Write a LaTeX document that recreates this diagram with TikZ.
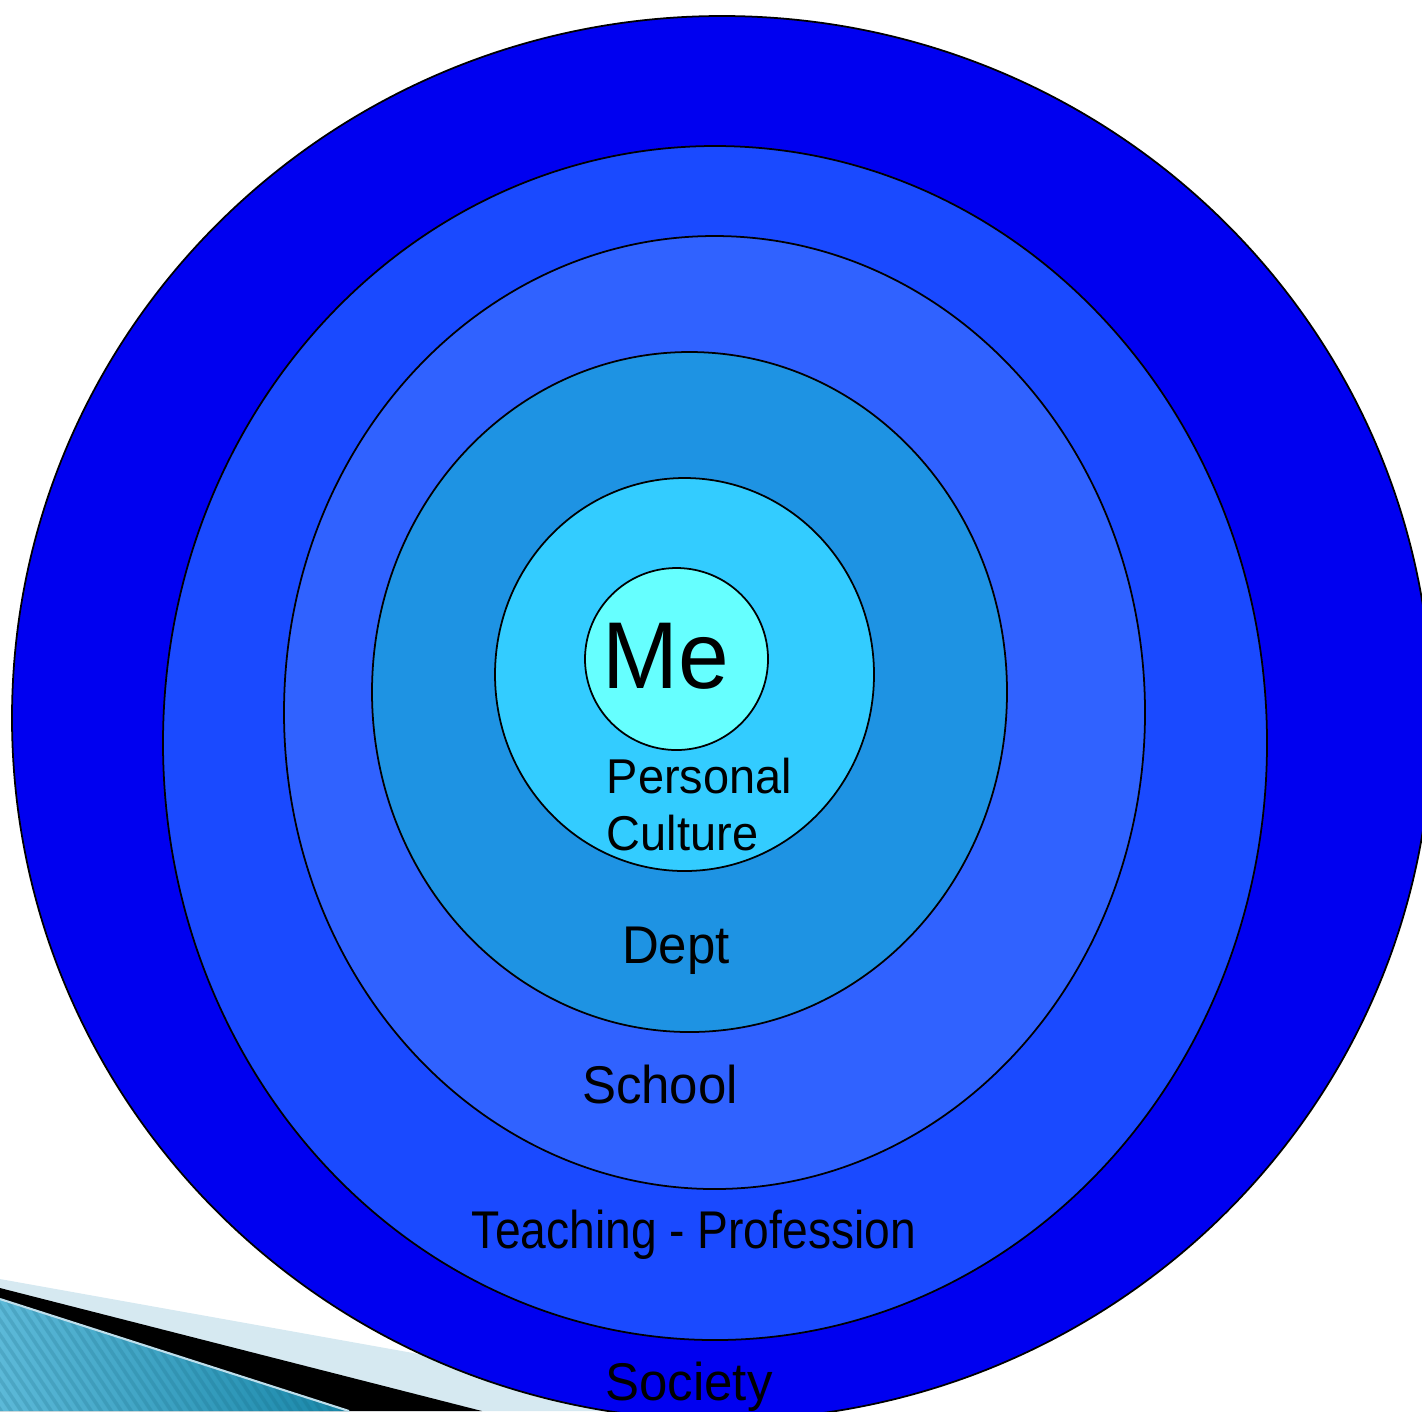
\documentclass[tikz,border=0pt]{standalone}
\usepackage{fontspec}
\setmainfont[FakeStretch=0.96]{Liberation Sans}
\newfontfamily\narrowsans[FakeStretch=0.87]{Liberation Sans}
\usepackage{xcolor}
\definecolor{society}{HTML}{0000F0}
\definecolor{profession}{HTML}{1A4AFF}
\definecolor{school}{HTML}{3062FF}
\definecolor{dept}{HTML}{1E93E3}
\definecolor{personal}{HTML}{33CCFF}
\definecolor{core}{HTML}{66FFFF}
\definecolor{pale}{HTML}{D6E9F1}
\definecolor{tealA}{HTML}{5CB9D8}
\definecolor{tealB}{HTML}{1786A8}
\usepackage{tikz}
\tikzset{
  every picture/.style={line width=0.5pt},
  ring/.style={draw=black, line width=0.5pt},
  label/.style={inner sep=0pt, text=black, font=\fontsize{15.1}{18}\selectfont},
  small/.style={label, font=\fontsize{13.9}{16}\selectfont},
  big/.style={label, font=\fontsize{27}{30}\selectfont},
  stripe/.style={draw=tealB!70!black, opacity=0.18, line width=1pt},
}

\begin{document}
\begin{tikzpicture}[x=0.01cm, y=-0.01cm]
  \useasboundingbox (0,0) rectangle (1422,1411);
  \clip (0,0) rectangle (1422,1411);
  % corner swoosh
  \fill[pale] (0,1279) -- (737,1411) -- (0,1411) -- cycle;
  \fill[black] (0,1288) -- (482,1411) -- (0,1411) -- cycle;
  \begin{scope}
    \clip (0,1299) -- (349,1411) -- (0,1411) -- cycle;
    \shade[left color=tealA, right color=tealB] (0,1295) rectangle (360,1411);
    \foreach \x in {-120,-110,...,360} \draw[stripe] (\x,1290) -- ++(84,125);
  \end{scope}
  \draw[pale!80!tealA, line width=0.6pt] (0,1299) -- (349,1411);
  % nested rings, outside in
  \foreach \cx/\cy/\rx/\ry/\col in {
      722/718/710/702/society,
      715/743/552/597/profession,
      714.5/712.5/430.5/476.5/school,
      689.5/692/317.5/340/dept,
      684.5/674.5/189.5/196.5/personal,
      676.5/659/91.5/91/core}
    \draw[ring, fill=\col] (\cx,\cy) ellipse [x radius=\rx, y radius=\ry];
  \node[big, anchor=base] (me) at (666,688) {Me};
  \node[small, anchor=base west] (pers) at (606,793) {Personal};
  \node[small, anchor=base west] (cult) at (606,850) {Culture};
  \node[label, anchor=base] (dep) at (676,963) {Dept};
  \node[label, anchor=base] (sch) at (660,1103) {School};
  \node[label, anchor=base] (prof) at (694,1248) {\narrowsans Teaching - Profession};
  \node[label, anchor=base] (soc) at (689,1400) {Society};
\end{tikzpicture}
\end{document}
